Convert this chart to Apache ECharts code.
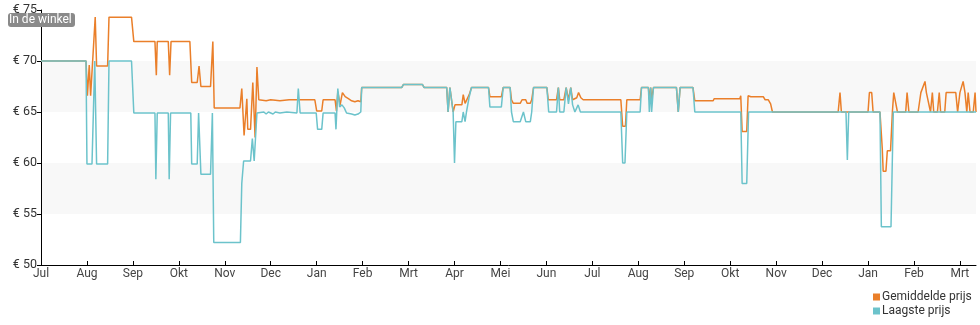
<!DOCTYPE html>
<html><head><meta charset="utf-8">
<script src="https://cdn.jsdelivr.net/npm/echarts@6/dist/echarts.min.js"></script>
<style>html,body{margin:0;padding:0;background:#fff}#c{width:980px;height:325px}</style>
</head><body><div id="c"></div>
<script>
// x = months since the first "Jul" tick
var monthLabels = ['Jul','Aug','Sep','Okt','Nov','Dec','Jan','Feb','Mrt','Apr','Mei','Jun','Jul','Aug','Sep','Okt','Nov','Dec','Jan','Feb','Mrt'];
var yTicks = [50,55,60,65,70,75];

var avgPrice = [
[0,70],[0.98,70],[1.01,66.6],[1.05,69.6],[1.08,66.6],[1.12,66.6],[1.18,74.3],[1.21,69.5],[1.45,69.5],[1.48,74.3],
[1.97,74.3],[2.02,71.9],[2.48,71.9],[2.51,68.6],[2.53,71.9],[2.77,71.9],[2.80,68.6],[2.83,71.9],[3.24,71.9],[3.28,67.9],
[3.40,67.9],[3.44,69.5],[3.48,67.5],[3.69,67.5],[3.74,71.9],[3.77,65.4],[4.33,65.4],[4.37,67.3],[4.42,62.7],[4.48,66.3],
[4.50,63.3],[4.56,63.3],[4.61,67.9],[4.66,62.5],[4.70,69.4],[4.74,66.2],[4.9,66.1],[5.0,66.2],[5.2,66.1],[5.4,66.2],
[5.96,66.2],[6.00,65.1],[6.11,65.1],[6.14,66.2],[6.40,66.2],[6.43,65.1],[6.46,67.0],[6.51,65.7],[6.56,66.9],[6.62,66.5],
[6.69,66.3],[6.76,66.1],[6.83,66.0],[6.90,66.1],[6.96,66.0],[6.98,67.4],[7.85,67.4],[7.89,67.7],[8.30,67.7],[8.34,67.4],
[8.83,67.4],[8.86,65.0],[8.90,67.4],[8.94,67.4],[8.97,65.0],[9.01,65.7],[9.16,65.7],[9.19,66.7],[9.23,65.85],[9.26,66.0],
[9.32,66.7],[9.37,67.4],[9.74,67.4],[9.77,66.5],[10.02,66.5],[10.06,67.4],[10.21,67.4],[10.24,66.2],[10.28,65.85],[10.43,65.85],
[10.47,66.2],[10.55,66.2],[10.58,65.85],[10.65,65.85],[10.68,66.2],[10.72,67.4],[11.01,67.4],[11.04,66.2],[11.22,66.2],[11.26,67.4],
[11.29,66.2],[11.38,66.2],[11.43,67.4],[11.48,66.2],[11.53,67.4],[11.57,66.2],[11.66,66.4],[11.70,66.9],[11.75,66.4],[11.80,66.2],
[12.62,66.2],[12.66,63.6],[12.72,63.6],[12.75,66.2],[13.04,66.2],[13.07,67.4],[13.22,67.4],[13.24,66.2],[13.27,67.4],[13.29,66.2],
[13.33,67.4],[13.83,67.4],[13.87,65.0],[13.91,67.4],[14.19,67.4],[14.23,66.1],[14.63,66.1],[14.65,66.3],[15.21,66.3],[15.23,66.6],
[15.26,63.1],[15.36,63.1],[15.39,66.6],[15.45,66.5],[15.72,66.5],[15.76,66.2],[15.83,66.2],[15.88,65.8],[15.92,65.0],[17.35,65.0],
[17.39,66.9],[17.42,65.0],[18.00,65.0],[18.03,66.9],[18.08,66.9],[18.11,65.0],[18.26,65.0],[18.31,61.4],[18.33,59.2],[18.39,59.2],
[18.42,61.2],[18.49,61.2],[18.53,65.0],[18.56,66.9],[18.60,66.9],[18.64,65.0],[18.82,65.0],[18.85,66.9],[18.89,65.0],[19.09,65.0],
[19.15,66.9],[19.24,68.0],[19.27,66.9],[19.31,66.9],[19.36,65.0],[19.40,66.9],[19.43,65.0],[19.51,65.0],[19.55,66.9],[19.58,65.0],
[19.67,65.0],[19.70,66.9],[19.91,66.9],[19.95,65.0],[20.00,66.9],[20.07,68.0],[20.11,66.9],[20.15,65.0],[20.18,66.9],[20.22,65.0],
[20.29,65.0],[20.33,66.9],[20.35,65.0]
];

var lowPrice = [
[0,70],[0.98,70],[1.00,59.9],[1.11,59.9],[1.17,70],[1.21,59.9],[1.45,59.9],[1.48,70],[1.97,70],[2.02,64.9],
[2.48,64.9],[2.50,58.4],[2.53,64.9],[2.77,64.9],[2.79,58.4],[2.82,64.9],[3.26,64.9],[3.28,59.9],[3.40,59.9],[3.43,64.9],
[3.48,58.9],[3.69,58.9],[3.73,64.9],[3.76,52.2],[4.34,52.2],[4.37,58.0],[4.40,58.1],[4.41,60.2],[4.56,60.2],[4.60,62.4],
[4.64,60.2],[4.67,60.2],[4.70,64.9],[4.85,65.0],[4.90,64.8],[4.95,65.0],[5.05,64.8],[5.10,65.0],[5.20,64.9],[5.35,65.0],
[5.57,64.9],[5.60,67.3],[5.64,64.9],[5.99,64.9],[6.02,63.3],[6.11,63.3],[6.14,64.9],[6.40,64.9],[6.42,63.3],[6.46,67.3],
[6.50,65.5],[6.55,65.7],[6.60,65.4],[6.65,64.9],[6.76,64.8],[6.83,64.7],[6.90,64.8],[6.96,65.0],[6.98,67.4],[7.85,67.4],
[7.89,67.7],[8.30,67.7],[8.34,67.4],[8.83,67.4],[8.86,65.0],[8.90,67.4],[8.94,67.4],[8.97,65.0],[9.00,60.0],[9.03,64.05],
[9.16,64.05],[9.19,65.0],[9.23,64.05],[9.26,65.0],[9.32,66.5],[9.37,67.4],[9.74,67.4],[9.77,65.5],[10.02,65.5],[10.06,67.4],
[10.21,67.4],[10.24,65.0],[10.28,64.05],[10.43,64.05],[10.50,65.0],[10.55,64.05],[10.65,64.05],[10.68,65.0],[10.72,67.4],[11.01,67.4],
[11.05,65.0],[11.22,65.0],[11.26,67.4],[11.29,65.0],[11.38,65.0],[11.43,67.4],[11.48,65.8],[11.53,67.4],[11.57,65.7],[11.62,65.0],
[11.66,65.0],[11.69,65.7],[11.74,65.0],[12.62,65.0],[12.66,60.0],[12.71,60.0],[12.75,65.0],[13.04,65.0],[13.07,67.4],[13.22,67.4],
[13.24,65.0],[13.27,67.4],[13.29,65.0],[13.33,67.4],[13.83,67.4],[13.87,65.0],[13.91,67.4],[14.19,67.4],[14.23,65.0],[15.23,65.0],
[15.26,58.0],[15.36,58.0],[15.40,65.0],[17.52,65.0],[17.55,60.3],[17.58,65.0],[18.26,65.0],[18.29,53.75],[18.50,53.75],[18.55,65.0],
[20.35,65.0]
];

var seriesNames = ['Gemiddelde prijs','Laagste prijs'];
var seriesColors = ['#ea7f2a','#6cc3cb'];

var chart = echarts.init(document.getElementById('c'), null, {renderer:'canvas'});
var tickVals = monthLabels.map(function(_, i){ return i; });
function makeLegend(name, top){
  return {
    left:873, top:top, padding:0, itemWidth:7, itemHeight:7, icon:'rect',
    textStyle:{fontSize:12, color:'#333', fontFamily:'Roboto', padding:[0,0,0,-3]},
    data:[name]
  };
}
chart.setOption({
  animation:false,
  textStyle:{fontFamily:'Roboto'},
  grid:{left:41, right:4, top:10, bottom:60, containLabel:false},
  legend:[makeLegend(seriesNames[0], 291), makeLegend(seriesNames[1], 305)],
  xAxis:{
    type:'value', min:0, max:20.35,
    axisLine:{show:true, lineStyle:{color:'#000', width:1}},
    axisTick:{show:true, inside:true, length:4, lineStyle:{color:'#000'}, customValues:tickVals},
    axisLabel:{color:'#444', fontSize:12, margin:3, customValues:tickVals,
      formatter:function(v){ var i=Math.round(v); return monthLabels[i]||''; }},
    splitLine:{show:false}
  },
  yAxis:{
    type:'value', min:yTicks[0], max:yTicks[yTicks.length-1], interval:5,
    axisLine:{show:true, lineStyle:{color:'#000', width:1}},
    axisTick:{show:true, length:4, lineStyle:{color:'#000'}},
    axisLabel:{color:'#333', fontSize:12.5, margin:4, formatter:'€ {value}'},
    splitLine:{show:false},
    splitArea:{show:true, areaStyle:{color:['rgba(255,255,255,0)','#f8f8f8']}}
  },
  graphic:[
    {type:'rect', left:8, top:13, shape:{width:67, height:14, r:3}, style:{fill:'#8a8a8a'}, z:100},
    {type:'text', left:9, top:14, style:{text:'In de winkel', fill:'#fff', font:'12px Roboto'}, z:101}
  ],
  series:[
    {name:seriesNames[0], type:'line', data:avgPrice, symbol:'none', itemStyle:{color:seriesColors[0]}, lineStyle:{width:1.5, color:seriesColors[0]}},
    {name:seriesNames[1], type:'line', data:lowPrice, symbol:'none', itemStyle:{color:seriesColors[1]}, lineStyle:{width:1.5, color:seriesColors[1]}}
  ]
});
</script></body></html>
